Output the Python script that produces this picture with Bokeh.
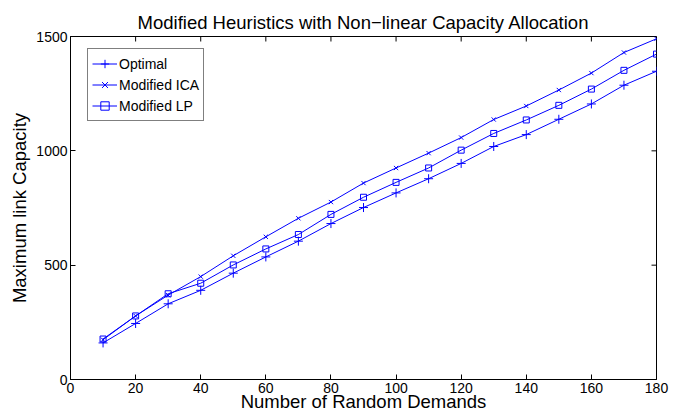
import math
from bokeh.plotting import figure
from bokeh.models import Range1d, FixedTicker, Legend, LegendItem
from bokeh.embed import file_html
from bokeh.resources import INLINE

demands = [10, 20, 30, 40, 50, 60, 70, 80, 90, 100, 110, 120, 130, 140, 150, 160, 170, 180]
optimal = [160, 245, 331, 390, 465, 536, 605, 682, 752, 816, 878, 945, 1019, 1071, 1138, 1205, 1287, 1348]
mod_ica = [174, 278, 369, 450, 541, 624, 705, 776, 859, 925, 990, 1058, 1137, 1196, 1266, 1340, 1430, 1490]
mod_lp = [177, 278, 375, 421, 501, 571, 634, 722, 797, 862, 925, 1003, 1076, 1135, 1199, 1270, 1352, 1423]
x_ticks = [0, 20, 40, 60, 80, 100, 120, 140, 160, 180]
y_ticks = [0, 500, 1000, 1500]

FONT = "Liberation Sans"
BLUE = "#0000ff"

p = figure(width=682, height=414, output_backend="svg", toolbar_location=None,
           x_range=Range1d(0, 180), y_range=Range1d(0, 1500),
           min_border_left=70, min_border_right=26, min_border_top=36, min_border_bottom=34)

p.title.text = "Modified Heuristics with Non\u2212linear Capacity Allocation"
p.title.align = "center"
p.title.text_font = FONT
p.title.text_font_size = "18.5px"
p.title.text_font_style = "normal"
p.title.text_color = "black"
p.title.standoff = 8

p.grid.visible = False
p.outline_line_color = "black"
p.outline_line_width = 1
p.background_fill_color = "white"
p.border_fill_color = "white"

for ax in (p.xaxis[0], p.yaxis[0]):
    ax.major_tick_in = 5
    ax.major_tick_out = 0
    ax.minor_tick_line_color = None
    ax.axis_line_color = "black"
    ax.major_label_text_font = FONT
    ax.major_label_text_font_size = "14px"
    ax.major_label_text_color = "black"
    ax.axis_label_text_font = FONT
    ax.axis_label_text_font_size = "18.5px"
    ax.axis_label_text_font_style = "normal"
    ax.axis_label_text_color = "black"
    ax.major_label_standoff = 3

p.xaxis[0].ticker = FixedTicker(ticks=x_ticks)
p.yaxis[0].ticker = FixedTicker(ticks=y_ticks)
p.xaxis[0].axis_label = "Number of Random Demands"
p.yaxis[0].axis_label = "Maximum link Capacity"
p.xaxis[0].axis_label_standoff = -5
p.yaxis[0].axis_label_standoff = 3

# inward ticks on top and right edges (dash markers clipped by the frame)
p.scatter(x_ticks, [1500] * len(x_ticks), marker="dash", size=10, angle=math.pi / 2,
          line_color="black", line_width=1)
p.scatter([180] * len(y_ticks), y_ticks, marker="dash", size=10,
          line_color="black", line_width=1)

l1 = p.line(demands, optimal, color=BLUE, line_width=1)
m1 = p.scatter(demands, optimal, marker="cross", size=9, line_color=BLUE, fill_color=None, line_width=1)
l2 = p.line(demands, mod_ica, color=BLUE, line_width=1)
m2 = p.scatter(demands, mod_ica, marker="x", size=6, line_color=BLUE, fill_color=None, line_width=1)
l3 = p.line(demands, mod_lp, color=BLUE, line_width=1)
m3 = p.scatter(demands, mod_lp, marker="square", size=6, line_color=BLUE, fill_color=None, line_width=1)

legend = Legend(items=[
    LegendItem(label="Optimal", renderers=[l1, m1]),
    LegendItem(label="Modified ICA", renderers=[l2, m2]),
    LegendItem(label="Modified LP", renderers=[l3, m3]),
], location=(17, 258))
legend.label_text_font = FONT
legend.label_text_font_size = "14px"
legend.label_text_color = "black"
legend.border_line_color = "black"
legend.border_line_width = 1
legend.margin = 0
legend.padding = 4
legend.spacing = 0
legend.glyph_width = 25
legend.glyph_height = 21
legend.label_standoff = 2
legend.label_height = 21
p.add_layout(legend)

open("out.html", "w").write(file_html(p, INLINE))
